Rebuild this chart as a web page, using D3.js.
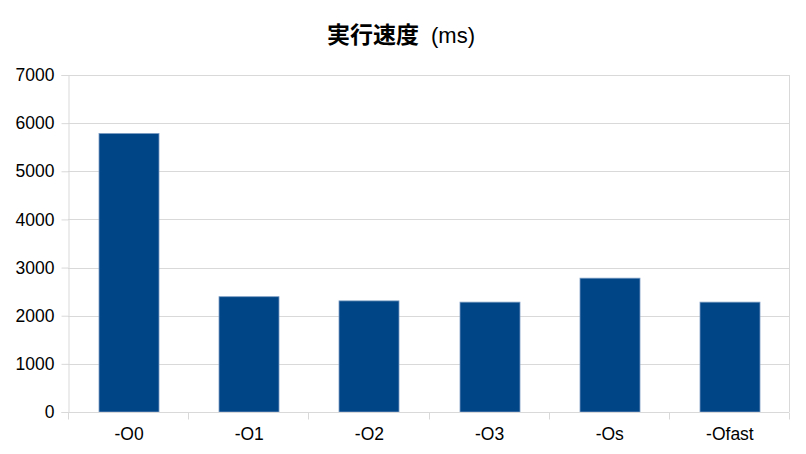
<!DOCTYPE html>
<html>
<head>
<meta charset="utf-8">
<script src="https://cdn.jsdelivr.net/npm/d3@7"></script>
<style>
  body { margin: 0; background: #fff; }
  svg { display: block; }
</style>
</head>
<body>
<div class="canvas"></div>
<script>
const categories = ['-O0', '-O1', '-O2', '-O3', '-Os', '-Ofast']
const times = [5785, 2395, 2308, 2282, 2780, 2282]
const yTicks = [0, 1000, 2000, 3000, 4000, 5000, 6000, 7000]
const titleMain = '実行速度'
const titleUnit = '(ms)'

const width = 806, height = 454
const margin = {top: 75, right: 17, bottom: 42, left: 68}
const graphWidth = width - margin.left - margin.right
const graphHeight = height - margin.top - margin.bottom

const svg = d3.select('.canvas')
    .append('svg')
    .attr('width', width)
    .attr('height', height)

// title: bold CJK part + regular unit part
const titleText = svg.append('text')
    .attr('x', 327)
    .attr('y', 43)
    .attr('fill', '#000')
titleText.append('tspan')
    .style('font-family', '"Noto Sans CJK JP", sans-serif')
    .style('font-weight', 'bold')
    .style('font-size', '23px')
    .text(titleMain)
titleText.append('tspan')
    .attr('x', 431)
    .style('font-family', '"Liberation Sans", Arial, sans-serif')
    .style('font-size', '22px')
    .text(titleUnit)

const graph = svg.append('g')
    .attr('transform', `translate(${margin.left}, ${margin.top})`)

const x = d3.scaleBand()
    .domain(categories)
    .range([0, graphWidth])
    .paddingInner(0.5)
    .paddingOuter(0.25)

const xBand = d3.scaleBand()
    .domain(categories)
    .range([0, graphWidth])

const y = d3.scaleLinear()
    .domain([0, 7000])
    .range([graphHeight, 0])

// gridlines
graph.append('g')
    .selectAll('line')
    .data(yTicks)
    .enter()
    .append('line')
    .attr('x1', 0)
    .attr('x2', graphWidth)
    .attr('y1', d => Math.round(y(d)) + 0.5)
    .attr('y2', d => Math.round(y(d)) + 0.5)
    .attr('stroke', '#d9d9d9')

// right border line of plot
graph.append('line')
    .attr('x1', graphWidth + 0.5).attr('x2', graphWidth + 0.5)
    .attr('y1', 0).attr('y2', graphHeight)
    .attr('stroke', '#d9d9d9')

// bars
graph.append('g')
    .attr('transform', 'translate(1, 0)')
    .selectAll('rect.bar')
    .data(times)
    .enter()
    .append('rect')
    .attr('class', 'bar')
    .attr('x', (d, i) => Math.round(x(categories[i])))
    .attr('width', Math.round(x.bandwidth()))
    .attr('y', d => y(d))
    .attr('height', d => graphHeight - y(d))
    .attr('fill', '#004586')
    .attr('stroke', '#7a9cc4')
    .attr('stroke-width', 0.8)

// y axis
const yAxis = d3.axisLeft(y)
    .tickValues(yTicks)
    .tickSize(7)
    .tickPadding(7)
    .tickFormat(d => d)

const yAxisGroup = graph.append('g')
    .attr('transform', 'translate(0.5, 0)')
    .call(yAxis)
yAxisGroup.select('.domain').attr('stroke', '#d9d9d9')
yAxisGroup.selectAll('.tick line').attr('stroke', '#d9d9d9')

// x axis: ticks at category boundaries
const xAxisGroup = graph.append('g')
    .attr('transform', `translate(0, ${graphHeight + 0.5})`)
xAxisGroup.append('line')
    .attr('x1', 0).attr('x2', graphWidth)
    .attr('stroke', '#d9d9d9')
xAxisGroup.selectAll('line.tick')
    .data(categories.concat(['end']))
    .enter()
    .append('line')
    .attr('class', 'tick')
    .attr('x1', (d, i) => Math.round(i * xBand.bandwidth()) + 0.5)
    .attr('x2', (d, i) => Math.round(i * xBand.bandwidth()) + 0.5)
    .attr('y1', 0)
    .attr('y2', 7)
    .attr('stroke', '#d9d9d9')
xAxisGroup.selectAll('text')
    .data(categories)
    .enter()
    .append('text')
    .attr('x', d => xBand(d) + xBand.bandwidth() / 2 + 1)
    .attr('y', 27)
    .attr('text-anchor', 'middle')
    .text(d => d)

graph.selectAll('text')
    .style('font-family', '"Liberation Sans", Arial, sans-serif')
    .style('font-size', '17.5px')
    .attr('fill', '#000')
</script>
</body>
</html>
